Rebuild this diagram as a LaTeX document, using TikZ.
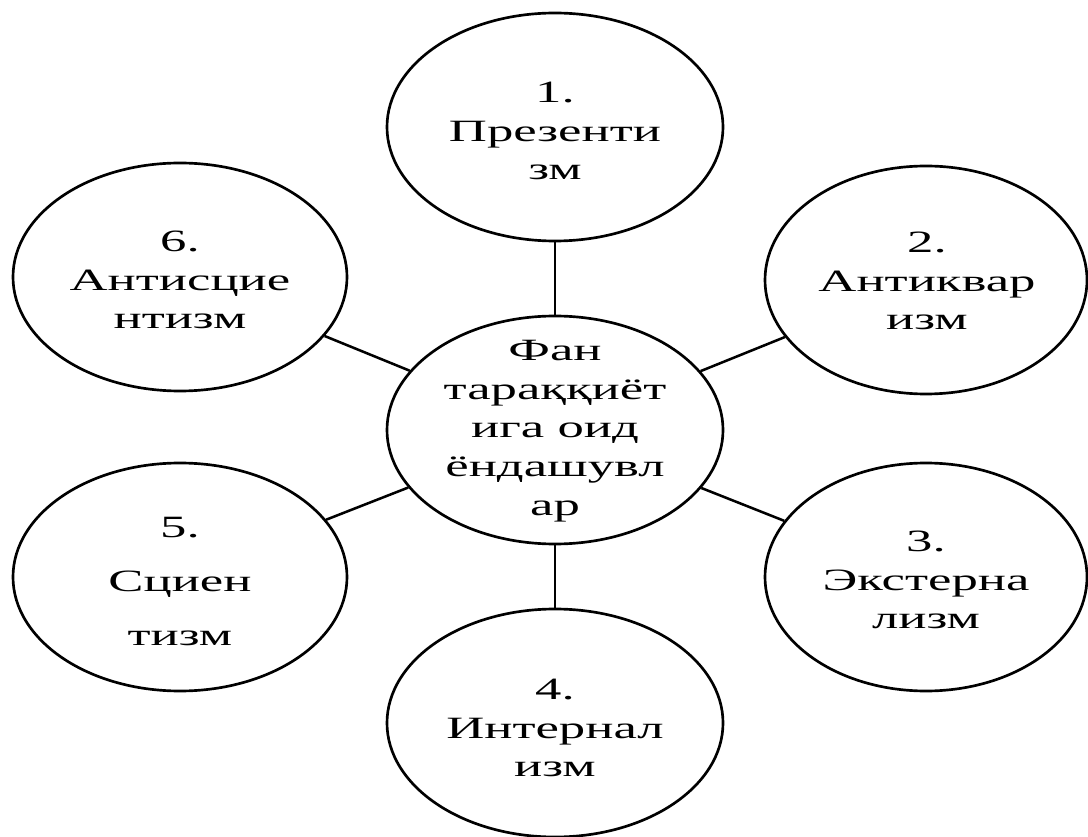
\documentclass[tikz,border=0pt]{standalone}
\usepackage{fontspec}
\setmainfont{Liberation Serif}[FakeStretch=1.7]
\usetikzlibrary{shapes.geometric}
\begin{document}
\begin{tikzpicture}[x=0.75pt,y=-0.75pt,
  bubble/.style={draw=black,line width=2pt,ellipse,inner sep=0pt,minimum width=#1*0.75pt,minimum height=228*0.75pt},
  bubble/.default=336,
  lbl/.style={align=center,font=\fontsize{23.25pt}{29pt}\selectfont,inner sep=0pt},
  link/.style={line width=1.9pt}]
\useasboundingbox (0,0) rectangle (1088,837);
\node[bubble] (c) at (555,430) {};
\node[bubble] (b1) at (555,127) {};
\node[bubble=322] (b2) at (926,280) {};
\node[bubble=322] (b3) at (926,577) {};
\node[bubble] (b4) at (555,723) {};
\node[bubble=334] (b5) at (180,577) {};
\node[bubble=334] (b6) at (180,277) {};
\node[lbl] (tc) at (555,431) {Фан\\тараққиёт\\ига оид\\ёндашувл\\ар};
\node[lbl] (t1) at (555,131) {1.\\Презенти\\зм};
\node[lbl] (t2) at (927,281) {2.\\Антиквар\\изм};
\node[lbl] (t3) at (926,580) {3.\\Экстерна\\лизм};
\node[lbl] (t4) at (555,728) {4.\\Интернал\\изм};
\node[lbl,font=\fontsize{23.25pt}{40.5pt}\selectfont] (t5) at (180,581) {5.\\Сциен\\тизм};
\node[lbl] (t6) at (180,280) {6.\\Антисцие\\нтизм};
\foreach \n in {b1,b2,b3,b4,b5,b6} \draw[link] (c) -- (\n);
\end{tikzpicture}
\end{document}
